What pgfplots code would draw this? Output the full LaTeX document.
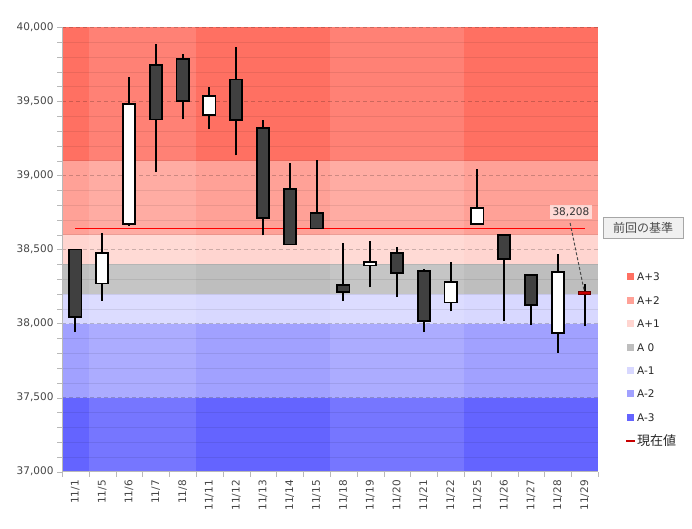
\documentclass[border=0pt]{standalone}
\usepackage{fontspec}
\setmainfont{DejaVu Sans}
\newfontfamily\jp{Noto Sans CJK JP}
\usepackage{pgfplots}
\pgfplotsset{compat=1.18}
\definecolor{ap3}{RGB}{255,112,98}
\definecolor{ap2}{RGB}{255,161,151}
\definecolor{ap1}{RGB}{255,213,208}
\definecolor{a0}{RGB}{190,190,190}
\definecolor{am1}{RGB}{216,216,255}
\definecolor{am2}{RGB}{161,161,255}
\definecolor{am3}{RGB}{100,100,255}
\definecolor{txt}{RGB}{70,70,70}
\definecolor{cdark}{RGB}{64,64,64}
\definecolor{nowred}{RGB}{200,0,0}
% pos, low, body low, body high, high, fill
\newcommand{\candle}[6]{%
  \pgfmathsetmacro{\xa}{#1-0.225}%
  \pgfmathsetmacro{\xb}{#1+0.225}%
  \addplot[draw=black, line width=2pt] coordinates {(#1,#2) (#1,#5)};%
  \addplot[draw=black, fill=#6, line width=1.8pt] coordinates {(\xa,#3) (\xb,#3) (\xb,#4) (\xa,#4)} -- cycle;%
}
\begin{document}
\begin{tikzpicture}
\begin{axis}[
  at={(62pt,57.3pt)}, anchor=south west,
  scale only axis, width=536pt, height=444.4pt,
  xmin=-0.5, xmax=19.5, ymin=37000, ymax=40000,
  axis x line*=bottom, axis y line*=left,
  axis line style={draw=gray!55, -},
  set layers,
  xtick={0,...,19},
  xticklabels={11/1,11/5,11/6,11/7,11/8,11/11,11/12,11/13,11/14,11/15,11/18,11/19,11/20,11/21,11/22,11/25,11/26,11/27,11/28,11/29},
  minor xtick={-0.5,0.5,...,19.5},
  ytick={37000,37500,...,40000},
  minor y tick num=4,
  tick align=outside,
  major tick length=5pt, minor tick length=5pt,
  tick style={draw=gray!55},
  major x tick style={draw=none},
  ymajorgrids, yminorgrids,
  major grid style={dash pattern=on 4pt off 3pt, draw=black, opacity=0.2},
  minor grid style={draw=black, opacity=0.08},
  scaled y ticks=false,
  /pgf/number format/1000 sep={,},
  /pgf/number format/assume math mode=true,
  tick label style={font=\fontsize{10.5}{12}\selectfont, text=txt},
  xticklabel style={rotate=90, anchor=east},
]
\begin{pgfonlayer}{axis background}
  \fill[ap3] (axis cs:-0.5,39100) rectangle (axis cs:19.5,40000);
  \fill[ap2] (axis cs:-0.5,38600) rectangle (axis cs:19.5,39100);
  \fill[ap1] (axis cs:-0.5,38400) rectangle (axis cs:19.5,38600);
  \fill[a0]  (axis cs:-0.5,38200) rectangle (axis cs:19.5,38400);
  \fill[am1] (axis cs:-0.5,38000) rectangle (axis cs:19.5,38200);
  \fill[am2] (axis cs:-0.5,37500) rectangle (axis cs:19.5,38000);
  \fill[am3] (axis cs:-0.5,37000) rectangle (axis cs:19.5,37500);
  \fill[white, opacity=0.12] (axis cs:0.5,37000) rectangle (axis cs:4.5,40000);
  \fill[white, opacity=0.12] (axis cs:9.5,37000) rectangle (axis cs:14.5,40000);
\end{pgfonlayer}
\addplot[draw=red, line width=1pt] coordinates {(0,38645) (19,38645)};
\candle{0}{37942}{38047}{38500}{38500}{cdark}
\candle{1}{38155}{38270}{38478}{38613}{white}
\candle{2}{38660}{38674}{39482}{39664}{white}
\candle{3}{39022}{39378}{39748}{39887}{cdark}
\candle{4}{39378}{39500}{39788}{39820}{cdark}
\candle{5}{39313}{39410}{39538}{39595}{white}
\candle{6}{39135}{39372}{39647}{39865}{cdark}
\candle{7}{38595}{38714}{39320}{39372}{cdark}
\candle{8}{38534}{38534}{38908}{39083}{cdark}
\candle{9}{38642}{38642}{38745}{39101}{cdark}
\candle{10}{38151}{38214}{38261}{38547}{cdark}
\candle{11}{38245}{38392}{38414}{38554}{white}
\candle{12}{38178}{38343}{38475}{38514}{cdark}
\candle{13}{37942}{38020}{38354}{38369}{cdark}
\candle{14}{38083}{38142}{38279}{38417}{white}
\candle{15}{38674}{38674}{38782}{39045}{white}
\candle{16}{38016}{38437}{38599}{38599}{cdark}
\candle{17}{37991}{38126}{38329}{38329}{cdark}
\candle{18}{37802}{37935}{38347}{38471}{white}
% 11/29: current value
\addplot[draw=black, line width=2pt] coordinates {(19,37982) (19,38264)};
\addplot[draw=black!60!red, fill=nowred, line width=0.8pt] coordinates {(18.775,38198) (19.225,38198) (19.225,38220) (18.775,38220)} -- cycle;
\draw[dash pattern=on 3pt off 2pt, line width=1pt, gray!60!black] (axis cs:18.46,38679) -- (axis cs:18.98,38225);
\node[fill=white, fill opacity=0.6, text opacity=1, text=black!80, font=\fontsize{10.5}{12}\selectfont, inner sep=2.5pt] at (axis cs:18.49,38752) {38,208};
\end{axis}
% reference label box
\node[draw=gray!70, line width=0.8pt, fill=gray!12, text=black!70, font=\jp\fontsize{12}{13}\selectfont, minimum width=80pt, minimum height=21pt, inner sep=0pt] at (643pt,301.5pt) {前回の基準};
% legend
\foreach \c/\l [count=\i from 0] in {ap3/A+3, ap2/A+2, ap1/A+1, a0/A 0, am1/A-1, am2/A-2, am3/A-3}{
  \pgfmathsetmacro{\yy}{529-277-23.4*\i}
  \fill[\c] (627pt,\yy pt-3.5pt) rectangle ++(7pt,7pt);
  \node[anchor=west, inner sep=0pt, text=black!85, font=\fontsize{10.5}{12}\selectfont] at (637pt,\yy pt) {\l};
}
\draw[nowred, line width=2pt] (626pt,88pt) -- (635pt,88pt);
\node[anchor=west, inner sep=0pt, text=black!85, font=\jp\fontsize{13}{14}\selectfont] at (637pt,88pt) {現在値};
\pgfresetboundingbox
\useasboundingbox (0,0) rectangle (692pt,529pt);
\end{tikzpicture}
\end{document}
